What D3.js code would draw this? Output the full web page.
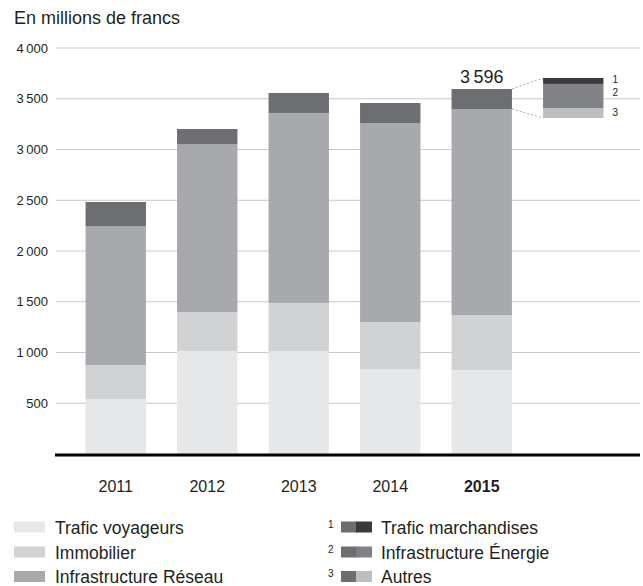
<!DOCTYPE html>
<html>
<head>
<meta charset="utf-8">
<script src="https://cdn.jsdelivr.net/npm/d3@7"></script>
<style>
  body { margin: 0; background: #fff; }
  text { font-family: "Liberation Sans", Arial, sans-serif; fill: #231f20; }
</style>
</head>
<body>
<div id="chart"></div>
<script>
// data (millions de francs)
var years = ["2011", "2012", "2013", "2014", "2015"];
var traficVoyageurs = [542, 1015, 1015, 837, 828];
var immobilier = [335, 384, 473, 463, 541];
var infraReseau = [1369, 1655, 1872, 1961, 2030];
var autresSegments = [237, 148, 197, 197, 197];   // 1 + 2 + 3
var detail2015 = [48, 120, 29];                    // Autres, Infra Énergie, Trafic marchandises
var detailLabels = ["3", "2", "1"];
var totalLabel = "3\u2009596";
var yTicks = [500, 1000, 1500, 2000, 2500, 3000, 3500, 4000];

var width = 643, height = 586;
var svg = d3.select("#chart").append("svg")
    .attr("width", width)
    .attr("height", height);

var x = d3.scaleBand()
    .domain(years.concat(["detail"]))
    .range([70, 619])
    .paddingInner(0.34)
    .paddingOuter(0.17);
var y = d3.scaleLinear().domain([0, 4000]).range([454, 48]);

var fmt = function (v) { return d3.format(",")(v).replace(",", "\u2009"); };

svg.append("text")
    .attr("x", 14).attr("y", 24)
    .style("font-size", "18px")
    .text("En millions de francs");

// grid
var grid = svg.append("g");
grid.selectAll("line").data(yTicks).enter().append("line")
    .attr("x1", 56).attr("x2", 640)
    .attr("y1", function (d) { return y(d); })
    .attr("y2", function (d) { return y(d); })
    .attr("stroke", "#c7c8ca").attr("stroke-width", 1);
grid.selectAll("text").data(yTicks).enter().append("text")
    .attr("x", 48)
    .attr("y", function (d) { return y(d) + 4.5; })
    .attr("text-anchor", "end")
    .style("font-size", "13px")
    .text(fmt);

// stacked bars
var keys = ["voy", "immo", "reseau", "autres"];
var colors = { voy: "#e6e7e8", immo: "#d1d2d4", reseau: "#a7a9ac", autres: "#6d6e71" };
var rows = years.map(function (yr, i) {
    return { year: yr, voy: traficVoyageurs[i], immo: immobilier[i], reseau: infraReseau[i], autres: autresSegments[i] };
});
var stack = d3.stack().keys(keys)(rows);

svg.append("g").selectAll("g").data(stack).enter().append("g")
    .attr("fill", function (d) { return colors[d.key]; })
    .selectAll("rect").data(function (d) { return d; }).enter().append("rect")
    .attr("x", function (d) { return x(d.data.year); })
    .attr("width", x.bandwidth())
    .attr("y", function (d) { return y(d[1]); })
    .attr("height", function (d) { return y(d[0]) - y(d[1]); });

// total label 2015
var last = rows[rows.length - 1];
var lastTop = last.voy + last.immo + last.reseau + last.autres;
svg.append("text")
    .attr("x", x("2015") + x.bandwidth() / 2)
    .attr("y", y(lastTop) - 6)
    .attr("text-anchor", "middle")
    .style("font-size", "18px")
    .text(totalLabel);

// detail inset (scale x2)
var segBottom = last.voy + last.immo + last.reseau;
var detailTotal = d3.sum(detail2015);
var insetBase = y(segBottom) + 9;
var yInset = d3.scaleLinear().domain([0, detailTotal])
    .range([insetBase, insetBase - 2 * (y(0) - y(detailTotal))]);
var detailColors = ["#bcbec0", "#808285", "#3a3a3c"];
var cum = 0;
var insetData = detail2015.map(function (v, i) {
    var d = { v0: cum, v1: cum + v, color: detailColors[i], label: detailLabels[i] };
    cum += v;
    return d;
});
var labelShift = [3, -0.5, 2];   // 3, 2, 1
var inset = svg.append("g");
inset.selectAll("rect").data(insetData).enter().append("rect")
    .attr("x", x("detail"))
    .attr("width", x.bandwidth())
    .attr("y", function (d) { return yInset(d.v1); })
    .attr("height", function (d) { return yInset(d.v0) - yInset(d.v1); })
    .attr("fill", function (d) { return d.color; });
inset.selectAll("text").data(insetData).enter().append("text")
    .attr("x", x("detail") + x.bandwidth() + 9)
    .attr("y", function (d, i) { return (yInset(d.v0) + yInset(d.v1)) / 2 + labelShift[i]; })
    .style("font-size", "10px")
    .text(function (d) { return d.label; });

// dashed connectors
var bx = x("2015") + x.bandwidth();
svg.append("line")
    .attr("x1", bx).attr("y1", y(lastTop))
    .attr("x2", x("detail")).attr("y2", yInset(detailTotal))
    .attr("stroke", "#a7a9ac").attr("stroke-dasharray", "2,2");
svg.append("line")
    .attr("x1", bx).attr("y1", y(segBottom))
    .attr("x2", x("detail")).attr("y2", yInset(0))
    .attr("stroke", "#a7a9ac").attr("stroke-dasharray", "2,2");

// baseline
svg.append("line")
    .attr("x1", 55).attr("x2", 640)
    .attr("y1", y(0) + 1).attr("y2", y(0) + 1)
    .attr("stroke", "#000").attr("stroke-width", 3);

// x labels
svg.append("g").selectAll("text").data(years).enter().append("text")
    .attr("x", function (d) { return x(d) + x.bandwidth() / 2; })
    .attr("y", 492)
    .attr("text-anchor", "middle")
    .style("font-size", "16px")
    .style("font-weight", function (d) { return d === "2015" ? "bold" : "normal"; })
    .text(function (d) { return d; });

// legend
var legLeft = [
    { label: "Trafic voyageurs", color: colors.voy },
    { label: "Immobilier", color: colors.immo },
    { label: "Infrastructure Réseau", color: colors.reseau }
];
var legRight = [
    { num: "1", label: "Trafic marchandises", color: "#3a3a3c" },
    { num: "2", label: "Infrastructure Énergie", color: "#808285" },
    { num: "3", label: "Autres", color: "#bcbec0" }
];
var rowY = [527, 552, 576.5];
var lg = svg.append("g");
lg.selectAll("rect.l").data(legLeft).enter().append("rect")
    .attr("class", "l")
    .attr("x", 14).attr("y", function (d, i) { return rowY[i] - 5.5; })
    .attr("width", 31).attr("height", 11)
    .attr("fill", function (d) { return d.color; });
lg.selectAll("text.l").data(legLeft).enter().append("text")
    .attr("class", "l")
    .attr("x", 55).attr("y", function (d, i) { return rowY[i] + 6.5; })
    .style("font-size", "17.5px")
    .text(function (d) { return d.label; });

var rg = lg.selectAll("g.r").data(legRight).enter().append("g")
    .attr("class", "r")
    .attr("transform", function (d, i) { return "translate(0," + rowY[i] + ")"; });
rg.append("text").attr("x", 328).attr("y", 0.5)
    .style("font-size", "10px")
    .text(function (d) { return d.num; });
rg.append("rect").attr("x", 341).attr("y", -5.5).attr("width", 16).attr("height", 11)
    .attr("fill", colors.autres);
rg.append("rect").attr("x", 356).attr("y", -5.5).attr("width", 16).attr("height", 11)
    .attr("fill", function (d) { return d.color; });
rg.append("text").attr("x", 381).attr("y", 6.5)
    .style("font-size", "17.5px")
    .text(function (d) { return d.label; });
</script>
</body>
</html>
